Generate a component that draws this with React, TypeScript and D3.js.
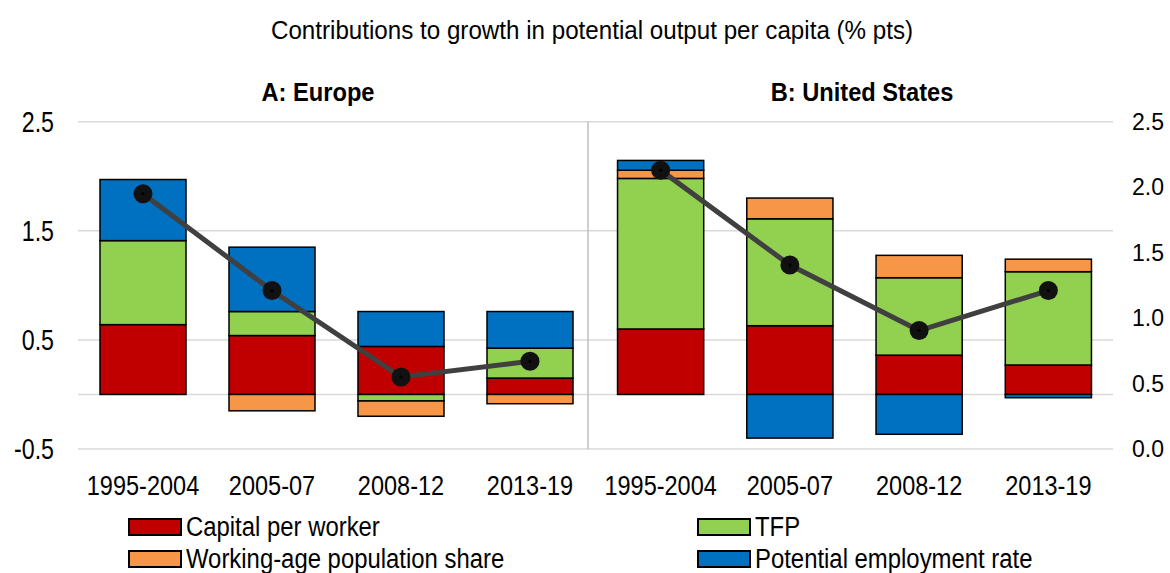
import React from 'react';
import * as d3 from 'd3';

// periods on the x axis (same for both panels)
const periods = ['1995-2004', '2005-07', '2008-12', '2013-19'];

const seriesKeys = ['capital', 'tfp', 'pop', 'emp'];
const seriesNames = ['Capital per worker', 'TFP', 'Working-age population share', 'Potential employment rate'];
const seriesColors = ['#C00000', '#92D050', '#F79646', '#0070C0'];

// A: Europe
const euCapital = [0.64, 0.54, 0.44, 0.15];
const euTfp = [0.77, 0.22, -0.06, 0.275];
const euPop = [0.0, -0.15, -0.14, -0.085];
const euEmp = [0.56, 0.59, 0.32, 0.335];
const euTotal = [1.95, 1.21, 0.55, 0.67];

// B: United States
const usCapital = [0.6, 0.63, 0.36, 0.27];
const usTfp = [1.38, 0.98, 0.71, 0.855];
const usPop = [0.075, 0.19, 0.205, 0.115];
const usEmp = [0.09, -0.4, -0.365, -0.03];
const usTotal = [2.13, 1.405, 0.905, 1.21];

const leftTicks = [2.5, 1.5, 0.5, -0.5];
const rightTicks = [0, 0.5, 1, 1.5, 2, 2.5];

const font = '"Liberation Sans", Arial, sans-serif';

const toRows = (cap: number[], tfp: number[], pop: number[], emp: number[]) =>
  periods.map((p, i) => ({ period: p, capital: cap[i], tfp: tfp[i], pop: pop[i], emp: emp[i] }));

const panels = [
  { title: 'A: Europe', rows: toRows(euCapital, euTfp, euPop, euEmp), total: euTotal, range: [78.5, 594.5], titleX: 318 },
  { title: 'B: United States', rows: toRows(usCapital, usTfp, usPop, usEmp), total: usTotal, range: [596, 1113], titleX: 862 },
];

// tick text with a plain hyphen for negatives, as in the original
const fmt = (t: number) => t.toFixed(1);

// no narrow face is installed, so squeeze the regular one horizontally
const NText = ({ x, y, sx, size, anchor = 'start', bold = false, dy, children }: any) => (
  <text transform={`translate(${x},${y}) scale(${sx},1)`} dy={dy} textAnchor={anchor}
    fontFamily={font} fontSize={size} fontWeight={bold ? 'bold' : 'normal'} fill="#000">
    {children}
  </text>
);

export default function App() {
  const width = 1170;
  const height = 573;

  // left axis drives the bars, right axis drives the line
  const yLeft = d3.scaleLinear().domain([-0.5, 2.5]).range([449, 121.7]);
  const yRight = d3.scaleLinear().domain([0, 2.5]).range([449, 121.7]);

  const stack = d3.stack<any>().keys(seriesKeys).offset(d3.stackOffsetDiverging);

  return (
    <svg width={width} height={height} style={{ position: 'absolute', left: 0, top: 0, background: '#fff' }}>
      <NText x={592} y={39} sx={0.93} size={26} anchor="middle">
        Contributions to growth in potential output per capita (% pts)
      </NText>

      {/* gridlines */}
      {leftTicks.map(t => (
        <line key={t} x1={78} x2={1113} y1={yLeft(t)} y2={yLeft(t)} stroke="#d9d9d9" strokeWidth={1.5} />
      ))}
      <line x1={78} x2={1113} y1={yLeft(0)} y2={yLeft(0)} stroke="#d9d9d9" strokeWidth={1.5} />
      <line x1={588} x2={588} y1={yLeft(2.5)} y2={yLeft(-0.5)} stroke="#bfbfbf" strokeWidth={1.5} />

      {/* left axis */}
      {leftTicks.map(t => (
        <NText key={t} x={54} y={yLeft(t)} dy="0.36em" sx={0.8} size={29} anchor="end">
          {fmt(t)}
        </NText>
      ))}
      {/* right axis */}
      {rightTicks.map(t => (
        <text key={t} x={1132} y={yRight(t)} dy="0.36em" textAnchor="start" fontFamily={font} fontSize={23} fill="#000">
          {fmt(t)}
        </text>
      ))}

      {panels.map(panel => {
        const x = d3.scaleBand<string>().domain(periods).range(panel.range as [number, number])
          .paddingInner(1 / 3).paddingOuter(1 / 6);
        const series = stack(panel.rows);
        const line = d3.line<number>()
          .x((_, i) => (x(periods[i]) as number) + x.bandwidth() / 2)
          .y(d => yRight(d));
        return (
          <g key={panel.title}>
            <NText x={panel.titleX} y={101} sx={0.91} size={26} anchor="middle" bold>
              {panel.title}
            </NText>
            {series.map((s, si) => (
              <g key={s.key}>
                {s.map((d, i) => {
                  const top = yLeft(Math.max(d[0], d[1]));
                  const bot = yLeft(Math.min(d[0], d[1]));
                  if (bot - top < 0.01) return null;
                  return (
                    <rect key={i} x={x(periods[i])} y={top} width={x.bandwidth()} height={bot - top}
                      fill={seriesColors[si]} stroke="#000" strokeWidth={1.5} />
                  );
                })}
              </g>
            ))}
            <path d={line(panel.total) || ''} fill="none" stroke="#404040" strokeWidth={5} />
            {panel.total.map((v, i) => (
              <g key={i}>
                <circle cx={(x(periods[i]) as number) + x.bandwidth() / 2} cy={yRight(v)} r={9.5} fill="#111" />
                <circle cx={(x(periods[i]) as number) + x.bandwidth() / 2} cy={yRight(v)} r={1.6} fill="#000" />
              </g>
            ))}
            {periods.map(p => (
              <NText key={p} x={(x(p) as number) + x.bandwidth() / 2} y={495} sx={0.84} size={28} anchor="middle">
                {p}
              </NText>
            ))}
          </g>
        );
      })}

      {/* legend */}
      {seriesNames.map((name, i) => {
        const col = i % 2;
        const row = Math.floor(i / 2);
        const lx = col === 0 ? 129 : 698;
        const ly = 519 + row * 32;
        return (
          <g key={name}>
            <rect x={lx} y={ly} width={52} height={16} fill={seriesColors[i]} stroke="#000" strokeWidth={2} />
            <NText x={lx + 57} y={ly + 17} sx={0.885} size={27}>
              {name}
            </NText>
          </g>
        );
      })}
    </svg>
  );
}
